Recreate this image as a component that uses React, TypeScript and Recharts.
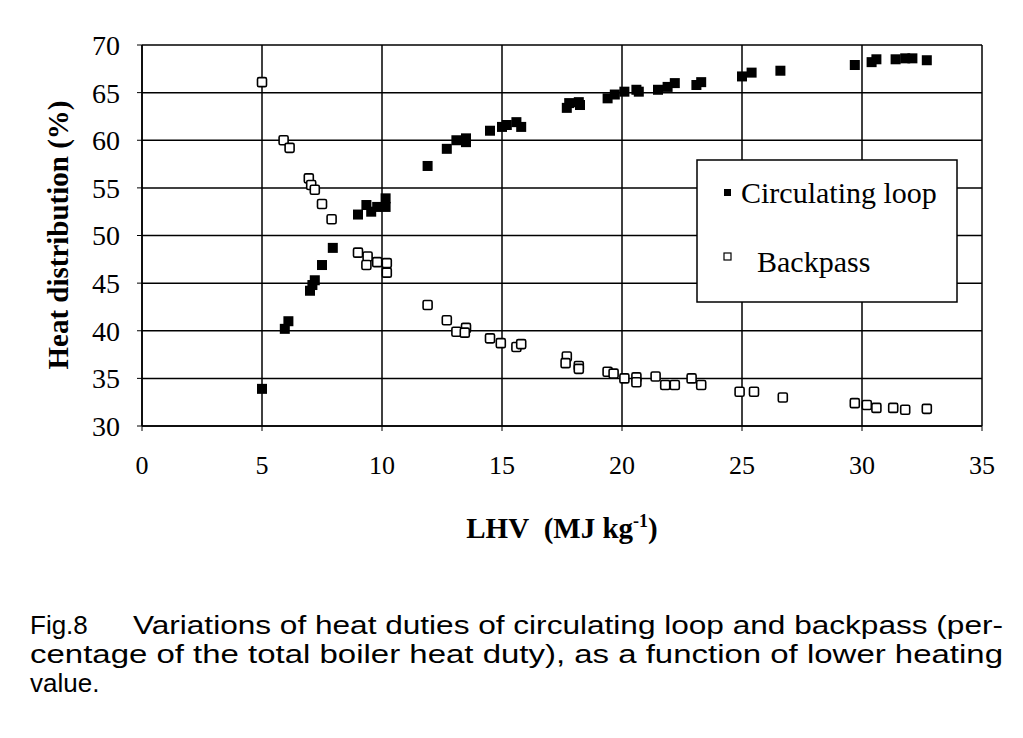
import { ScatterChart, Scatter, XAxis, YAxis, CartesianGrid } from "recharts";

const SERIF = "'Liberation Serif', 'Times New Roman', serif";
const SANS = "'Liberation Sans', Arial, sans-serif";

// LHV (MJ/kg) and heat share (%)
const loopX = [
  5.0, 5.95, 6.1, 7.0, 7.1, 7.2, 7.5, 7.95, 9.0, 9.35, 9.55, 9.8, 10.15, 10.15,
  11.9, 12.7, 13.1, 13.5, 13.5, 14.5, 15.0, 15.2, 15.6, 15.8, 17.7, 17.8, 18.2,
  18.25, 19.4, 19.7, 20.1, 20.6, 20.7, 21.5, 21.9, 22.2, 23.1, 23.3, 25.0, 25.4,
  26.6, 29.7, 30.4, 30.6, 31.4, 31.8, 32.1, 32.7,
];
const loopY = [
  33.9, 40.2, 41.0, 44.2, 44.8, 45.3, 46.9, 48.7, 52.2, 53.2, 52.5, 53.0, 53.0,
  53.9, 57.3, 59.1, 60.0, 60.2, 59.8, 61.0, 61.4, 61.6, 61.9, 61.4, 63.4, 63.9,
  64.0, 63.7, 64.4, 64.8, 65.1, 65.3, 65.1, 65.3, 65.6, 66.0, 65.8, 66.1, 66.7,
  67.1, 67.3, 67.9, 68.2, 68.5, 68.5, 68.6, 68.6, 68.4,
];

const passX = [
  5.0, 5.9, 6.15, 6.95, 7.05, 7.2, 7.5, 7.9, 9.0, 9.4, 9.35, 9.8, 10.2, 10.2,
  11.9, 12.7, 13.1, 13.5, 13.45, 14.5, 14.95, 15.6, 15.8, 17.7, 17.65, 18.2,
  18.2, 19.4, 19.65, 20.1, 20.6, 20.6, 21.4, 21.8, 22.2, 22.9, 23.3, 24.9, 25.5,
  26.7, 29.7, 30.2, 30.6, 31.3, 31.8, 32.7,
];
const passY = [
  66.1, 60.0, 59.2, 56.0, 55.3, 54.8, 53.3, 51.7, 48.2, 47.8, 46.9, 47.2, 47.1,
  46.1, 42.7, 41.1, 39.9, 40.3, 39.8, 39.2, 38.7, 38.3, 38.6, 37.3, 36.6, 36.3,
  36.0, 35.7, 35.5, 35.0, 35.1, 34.6, 35.2, 34.3, 34.3, 35.0, 34.3, 33.6, 33.6,
  33.0, 32.4, 32.2, 31.9, 31.9, 31.7, 31.8,
];

const xTicks = [0, 5, 10, 15, 20, 25, 30, 35];
const yTicks = [30, 35, 40, 45, 50, 55, 60, 65, 70];

const loopData = loopX.map((x, i) => ({ x, y: loopY[i] }));
const passData = passX.map((x, i) => ({ x, y: passY[i] }));

const FilledSquare = (props: any) => {
  const { cx, cy } = props;
  return <rect x={cx - 5} y={cy - 5} width={10} height={10} fill="#000" />;
};

const OpenSquare = (props: any) => {
  const { cx, cy } = props;
  return (
    <rect
      x={cx - 4.5}
      y={cy - 4.5}
      width={9}
      height={9}
      rx={1.5}
      fill="#fff"
      stroke="#000"
      strokeWidth={1.6}
    />
  );
};

export default function App() {
  return (
    <div
      style={{
        position: "relative",
        width: 1023,
        height: 738,
        margin: "-8px 0 0 -8px",
        background: "#fff",
        overflow: "hidden",
      }}
    >
      <div style={{ position: "absolute", left: 0, top: 0 }}>
        <ScatterChart
          width={1000}
          height={560}
          margin={{ top: 45, right: 18, bottom: 0, left: 0 }}
        >
          <CartesianGrid stroke="#000" strokeWidth={1.5} />
          <XAxis
            type="number"
            dataKey="x"
            domain={[0, 35]}
            ticks={xTicks}
            height={134}
            axisLine={{ stroke: "#000", strokeWidth: 1.5 }}
            tickLine={{ stroke: "#000" }}
            tickSize={5}
            tickMargin={25}
            tick={{ fill: "#000", fontSize: 26, fontFamily: SERIF }}
            label={{
              content: () => (
                <text
                  x={562}
                  y={538}
                  textAnchor="middle"
                  fill="#000"
                  fontFamily={SERIF}
                  fontWeight="bold"
                  fontSize={29}
                >
                  LHV{"\u00a0\u00a0"}(MJ kg
                  <tspan fontSize={18} dy={-11}>
                    -1
                  </tspan>
                  <tspan dy={11}>)</tspan>
                </text>
              ),
            }}
          />
          <YAxis
            type="number"
            dataKey="y"
            domain={[30, 70]}
            ticks={yTicks}
            width={142}
            axisLine={{ stroke: "#000", strokeWidth: 1.5 }}
            tickLine={{ stroke: "#000" }}
            tickSize={5}
            tickMargin={17}
            tick={{ fill: "#000", fontSize: 28, fontFamily: SERIF }}
            label={{
              content: () => (
                <text
                  x={58}
                  y={235}
                  transform="rotate(-90 58 235)"
                  textAnchor="middle"
                  dominantBaseline="central"
                  fill="#000"
                  fontFamily={SERIF}
                  fontWeight="bold"
                  fontSize={29}
                >
                  Heat distribution (%)
                </text>
              ),
            }}
          />
          <Scatter
            name="Circulating loop"
            data={loopData}
            shape={FilledSquare}
            isAnimationActive={false}
          />
          <Scatter
            name="Backpass"
            data={passData}
            shape={OpenSquare}
            isAnimationActive={false}
          />
        </ScatterChart>
      </div>

      <svg
        width={1023}
        height={738}
        style={{ position: "absolute", left: 0, top: 0, pointerEvents: "none" }}
      >
        {/* legend box */}
        <rect x={697} y={160} width={260} height={142} fill="#fff" stroke="#000" strokeWidth={1.5} />
        <rect x={724} y={189} width={7} height={7} fill="#000" />
        <text x={741} y={203} fontFamily={SERIF} fontSize={30} fill="#000">
          Circulating loop
        </text>
        <rect x={724} y={253} width={7} height={7} fill="#fff" stroke="#000" strokeWidth={1.2} />
        <text x={757} y={272} fontFamily={SERIF} fontSize={30} fill="#000">
          Backpass
        </text>

        {/* caption */}
        <text x={30} y={634} fontFamily={SANS} fontSize={26} fill="#000">
          Fig.8
        </text>
        <text
          x={133}
          y={634}
          fontFamily={SANS}
          fontSize={26}
          fill="#000"
          textLength={870}
          lengthAdjust="spacingAndGlyphs"
        >
          Variations of heat duties of circulating loop and backpass (per-
        </text>
        <text
          x={30}
          y={663}
          fontFamily={SANS}
          fontSize={26}
          fill="#000"
          textLength={973}
          lengthAdjust="spacingAndGlyphs"
        >
          centage of the total boiler heat duty), as a function of lower heating
        </text>
        <text x={30} y={692} fontFamily={SANS} fontSize={26} fill="#000">
          value.
        </text>
      </svg>
    </div>
  );
}
